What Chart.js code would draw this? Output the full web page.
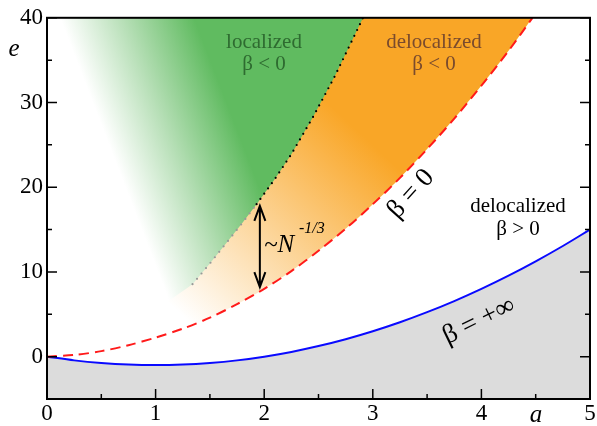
<!DOCTYPE html>
<html>
<head>
<meta charset="utf-8">
<script src="https://cdn.jsdelivr.net/npm/chart.js@4"></script>
<style>
  body { margin: 0; background: #fff; }
  canvas { display: block; }
</style>
</head>
<body>
<canvas id="phase" width="597" height="426"></canvas>
<script>
// blue curve: beta = +inf boundary
const blueA = [0, 0.25, 0.5, 0.75, 1, 1.25, 1.5, 1.75, 2, 2.25, 2.5, 2.75, 3, 3.25, 3.5, 3.75, 4, 4.25, 4.5, 4.75, 5];
const blueE = [0, -0.44, -0.75, -0.94, -1, -0.94, -0.75, -0.44, 0, 0.56, 1.25, 2.06, 3, 4.06, 5.25, 6.56, 8, 9.56, 11.25, 13.06, 15];

// red dashed: beta = 0
const redA = [0, 0.25, 0.5, 0.75, 1, 1.25, 1.5, 1.75, 2, 2.25, 2.5, 2.75, 3, 3.25, 3.5, 3.75, 4, 4.25, 4.47];
const redE = [0, 0.2, 0.65, 1.35, 2.25, 3.3, 4.6, 6.2, 8, 10.1, 12.5, 15.1, 18, 21.1, 24.5, 28.1, 32, 36.1, 40];

// dotted localization line (gray part, black part)
const grayDotA = [1.34, 1.5, 1.65, 1.8, 1.93];
const grayDotE = [8.55, 11.0, 13.4, 15.8, 18.0];
const blackDotA = [1.93, 2.1, 2.25, 2.45, 2.65, 2.91];
const blackDotE = [18.0, 21.0, 23.9, 28.3, 33.1, 40];

// lower/left boundary of the green region
const greenA = [0, 1.1, 1.34, 1.5, 1.65, 1.8, 1.93, 2.1, 2.25, 2.45, 2.65, 2.91];
const greenE = [0, 6.4, 8.55, 11.0, 13.4, 15.8, 18.0, 21.0, 23.9, 28.3, 33.1, 40];
// faded edge of the green region (a, e)
const greenEdge = [[0.12, 40], [1.13, 6.4]];
// orange gradient runs from light to full between these (a, e)
const orangeRamp = [[1.4, 3], [3.0, 25]];

// double arrow ~N^-1/3
const arrowA = 1.96;
const arrowE = [17.8, 8.2];

const xTicks = [0, 1, 2, 3, 4, 5];
const yTicks = [0, 10, 20, 30, 40];

const serif = '"Liberation Serif", "DejaVu Serif", serif';
const GREEN = '#60bb60';
const ORANGE = '#f9a627';

const pts = (xs, ys) => xs.map((x, i) => ({ x, y: ys[i] }));

function greenFill(c) {
  const chart = c.chart;
  const { x, y } = chart.scales;
  if (!chart.chartArea || !x || !y) return GREEN;
  const x0 = x.getPixelForValue(greenEdge[0][0]), y0 = y.getPixelForValue(greenEdge[0][1]);
  const x1 = x.getPixelForValue(greenEdge[1][0]), y1 = y.getPixelForValue(greenEdge[1][1]);
  const len = Math.hypot(x1 - x0, y1 - y0);
  const nx = (y1 - y0) / len, ny = -(x1 - x0) / len;
  const g = chart.ctx.createLinearGradient(x0, y0, x0 + nx * 125, y0 + ny * 125);
  g.addColorStop(0, '#ffffff');
  g.addColorStop(0.45, '#b9e0b9');
  g.addColorStop(1, GREEN);
  return g;
}

function orangeFill(c) {
  const chart = c.chart;
  const { x, y } = chart.scales;
  if (!chart.chartArea || !x || !y) return ORANGE;
  const g = chart.ctx.createLinearGradient(
    x.getPixelForValue(orangeRamp[0][0]), y.getPixelForValue(orangeRamp[0][1]),
    x.getPixelForValue(orangeRamp[1][0]), y.getPixelForValue(orangeRamp[1][1]));
  g.addColorStop(0, '#ffffff');
  g.addColorStop(1, ORANGE);
  return g;
}

const frame = {
  id: 'frame',
  afterDatasetsDraw(chart) {
    const { ctx, chartArea: ca, scales } = chart;
    const { x, y } = scales;
    ctx.save();
    ctx.strokeStyle = '#000';
    ctx.lineWidth = 1.5;
    // ticks inward: bottom, left, right
    for (let v = 0; v <= 5; v += 0.5) {
      const px = x.getPixelForValue(v);
      const len = v % 1 === 0 ? 10 : 5;
      ctx.beginPath();
      ctx.moveTo(px, ca.bottom);
      ctx.lineTo(px, ca.bottom - len);
      ctx.stroke();
    }
    for (let v = -5; v <= 40; v += 5) {
      const py = y.getPixelForValue(v);
      const len = v % 10 === 0 ? 10 : 5;
      ctx.beginPath();
      ctx.moveTo(ca.left, py);
      ctx.lineTo(ca.left + len, py);
      ctx.moveTo(ca.right, py);
      ctx.lineTo(ca.right - len, py);
      ctx.stroke();
    }
    ctx.lineWidth = 2;
    ctx.strokeRect(ca.left, ca.top, ca.right - ca.left, ca.bottom - ca.top);

    // arrow
    const ax = x.getPixelForValue(arrowA);
    const t = y.getPixelForValue(arrowE[0]);
    const b = y.getPixelForValue(arrowE[1]);
    ctx.lineWidth = 2;
    ctx.beginPath();
    ctx.moveTo(ax, t);
    ctx.lineTo(ax, b);
    ctx.moveTo(ax - 5.5, t + 15);
    ctx.lineTo(ax, t);
    ctx.lineTo(ax + 5.5, t + 15);
    ctx.moveTo(ax - 5.5, b - 15);
    ctx.lineTo(ax, b);
    ctx.lineTo(ax + 5.5, b - 15);
    ctx.stroke();

    // region labels
    ctx.textAlign = 'center';
    ctx.textBaseline = 'middle';
    ctx.font = '21px ' + serif;
    ctx.fillStyle = '#2e6b30';
    ctx.fillText('localized', 264, 42);
    ctx.fillText('\u03b2 < 0', 264, 64);
    ctx.fillStyle = '#7a4b2d';
    ctx.fillText('delocalized', 434, 42);
    ctx.fillText('\u03b2 < 0', 434, 64);
    ctx.fillStyle = '#000';
    ctx.fillText('delocalized', 518, 206);
    ctx.fillText('\u03b2 > 0', 518, 229);

    ctx.font = '27px ' + serif;
    ctx.save();
    ctx.translate(411, 194);
    ctx.rotate(-48 * Math.PI / 180);
    ctx.fillText('\u03b2 = 0', 0, 0);
    ctx.restore();
    ctx.save();
    ctx.translate(479, 321);
    ctx.rotate(-26 * Math.PI / 180);
    ctx.fillText('\u03b2 = +\u221e', 0, 0);
    ctx.restore();

    // ~N^-1/3
    ctx.textAlign = 'left';
    ctx.textBaseline = 'alphabetic';
    ctx.font = 'italic 25px ' + serif;
    ctx.fillText('~N', 264, 252);
    ctx.font = 'italic 16px ' + serif;
    ctx.fillText('-1/3', 299, 233);

    // axis names
    ctx.textAlign = 'center';
    ctx.font = 'italic 25px ' + serif;
    ctx.fillText('e', 14, 56);
    ctx.fillText('a', 536, 422);
    ctx.restore();
  }
};

new Chart(document.getElementById('phase'), {
  type: 'scatter',
  data: {
    datasets: [
      { data: pts(greenA, greenE), showLine: true, borderWidth: 0, borderColor: 'transparent',
        pointRadius: 0, fill: 'end', backgroundColor: greenFill },
      { data: pts(redA, redE), showLine: true, borderWidth: 2, borderColor: '#ff1a1a',
        borderDash: [10, 6], pointRadius: 0, fill: 'end', backgroundColor: orangeFill, tension: 0.3 },
      { data: pts(blueA, blueE), showLine: true, borderWidth: 2, borderColor: '#0a0aff',
        pointRadius: 0, fill: 'start', backgroundColor: '#dcdcdc', tension: 0.3 },
      { data: pts(blackDotA, blackDotE), showLine: true, borderWidth: 2.2, borderColor: '#000',
        borderDash: [0, 6.5], borderCapStyle: 'round', pointRadius: 0, fill: false },
      { data: pts(grayDotA, grayDotE), showLine: true, borderWidth: 2.2, borderColor: '#999',
        borderDash: [0, 7], borderCapStyle: 'round', pointRadius: 0, fill: false }
    ]
  },
  options: {
    responsive: false,
    animation: false,
    layout: { padding: { top: 17, right: 7, left: 0, bottom: 0 } },
    scales: {
      x: {
        type: 'linear', min: 0, max: 5,
        afterBuildTicks: s => { s.ticks = xTicks.map(v => ({ value: v })); },
        afterFit: s => { s.height = 27; },
        ticks: { font: { family: serif, size: 23 }, color: '#000', padding: 1, maxRotation: 0, autoSkip: false },
        grid: { display: false, drawTicks: false },
        border: { display: false }
      },
      y: {
        type: 'linear', min: -5, max: 40,
        afterBuildTicks: s => { s.ticks = yTicks.map(v => ({ value: v })); },
        afterFit: s => { s.width = 47; },
        ticks: { font: { family: serif, size: 23 }, color: '#000', padding: 4, autoSkip: false },
        grid: { display: false, drawTicks: false },
        border: { display: false }
      }
    },
    plugins: {
      legend: { display: false },
      tooltip: { enabled: false },
      filler: { drawTime: 'beforeDatasetsDraw' }
    }
  },
  plugins: [frame]
});
</script>
</body>
</html>
